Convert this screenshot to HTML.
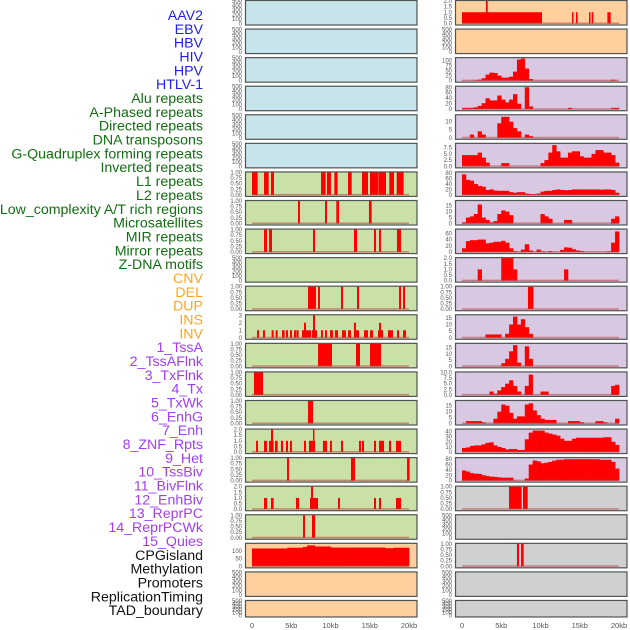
<!DOCTYPE html>
<html><head><meta charset="utf-8"><style>
html,body{margin:0;padding:0;background:#fff;width:630px;height:630px;overflow:hidden}
svg{display:block;font-family:"Liberation Sans",sans-serif}
</style></head><body>
<svg id="chart" width="630" height="630" viewBox="0 0 630 630" xmlns="http://www.w3.org/2000/svg"></svg>
<script>
// ---- data ----
const trackLabels = ["AAV2","EBV","HBV","HIV","HPV","HTLV-1","Alu repeats","A-Phased repeats","Directed repeats","DNA transposons","G-Quadruplex forming repeats","Inverted repeats","L1 repeats","L2 repeats","Low_complexity A/T rich regions","Microsatellites","MIR repeats","Mirror repeats","Z-DNA motifs","CNV","DEL","DUP","INS","INV","1_TssA","2_TssAFlnk","3_TxFlnk","4_Tx","5_TxWk","6_EnhG","7_Enh","8_ZNF_Rpts","9_Het","10_TssBiv","11_BivFlnk","12_EnhBiv","13_ReprPC","14_ReprPCWk","15_Quies","CPGisland","Methylation","Promoters","ReplicationTiming","TAD_boundary"];
const labelGroups = ["virus","virus","virus","virus","virus","virus","rep","rep","rep","rep","rep","rep","rep","rep","rep","rep","rep","rep","rep","sv","sv","sv","sv","sv","chr","chr","chr","chr","chr","chr","chr","chr","chr","chr","chr","chr","chr","chr","chr","oth","oth","oth","oth","oth"];
const xTickValues = [0,5,10,15,20];
const xTickLabels = ["0","5kb","10kb","15kb","20kb"];
// interval tracks: [startKb, endKb, value]
const L7 = [[0,0.72,1],[1.53,2.12,1],[2.42,2.8,1],[8.79,9.38,1],[9.55,10.06,1],[10.49,10.91,1],[12.23,12.7,1],[14.01,14.78,1],[15.03,16.1,1],[16.14,17.07,1],[17.49,18.09,1],[18.43,19.32,1]];
const L8 = [[5.86,6.11,1],[9.3,9.55,1],[10.74,11.08,1],[14.9,15.24,1]];
const L9 = [[1.53,1.91,1],[2.17,2.55,1],[7.77,8.03,1],[12.99,13.38,1],[15.54,15.8,1],[16.18,16.43,1],[18.47,18.98,1]];
const L11 = [[7.13,8.15,1],[8.41,8.66,1],[11.34,11.59,1],[13.38,13.63,1],[18.73,18.98,1],[19.24,19.49,1]];
const L12 = [[0.64,0.89,1],[1.4,1.66,1],[2.5,2.76,1],[3.01,3.27,1],[3.82,4.16,1],[4.33,4.59,1],[4.84,5.1,1],[5.35,5.6,1],[5.65,5.94,1],[6.37,7.52,1],[6.62,6.88,2],[7.64,8.28,1],[7.77,8.03,3],[8.79,9.04,1],[9.3,9.55,1],[9.94,10.32,1],[10.57,10.96,1],[11.46,11.97,1],[12.23,12.61,1],[12.99,13.63,1],[12.99,13.25,2],[14.27,14.78,1],[15.03,15.41,1],[16.05,16.69,1],[16.18,16.43,2],[17.32,17.96,1],[18.47,18.73,1],[19.24,19.62,1]];
const L13 = [[8.41,10.19,1],[13.25,13.76,1],[15.03,16.43,1]];
const L14 = [[0.25,1.4,1]];
const L15 = [[7.13,7.77,1]];
const L16 = [[0.51,0.76,1],[1.53,1.91,1],[2.17,2.76,1],[2.42,2.68,2],[2.93,3.27,1],[3.69,3.95,1],[4.33,4.59,1],[4.84,5.1,1],[6.62,6.88,1],[7.26,8.03,1],[7.77,7.95,2],[9.04,9.55,1],[9.94,10.19,1],[11.34,11.59,1],[13.63,13.88,1],[14.01,14.27,1],[15.54,15.8,1],[16.18,16.82,1],[17.45,17.71,1],[18.34,18.98,1]];
const L17 = [[4.46,4.71,1],[12.61,13.12,1],[19.75,20.08,1]];
const L18 = [[1.53,1.91,1],[2.42,2.76,1],[5.6,5.99,1],[7.39,8.41,1],[7.52,7.77,2],[10.96,11.21,1],[15.54,15.8,1],[16.18,16.43,1],[18.34,18.98,1]];
const L19 = [[6.5,6.75,1],[7.64,8.03,1]];
const R1 = [[0,10.19,1],[3.06,3.27,2],[14.01,14.14,1],[14.52,14.73,1],[16.18,16.35,1],[16.52,16.73,1],[18.52,18.94,1]];
const R11 = [[8.4,9.1,1]];
const R18 = [[5.99,7.6,1],[7.77,8.37,1]];
const R20 = [[7.0,7.26,1],[7.52,7.86,1]];
// binned tracks: 0.5kb bins starting at 0
const L20 = [115,115,115,115,115,115,115,115,115,120,120,120,120,125,135,135,128,128,128,128,121,121,121,121,121,121,121,121,121,121,121,121,121,121,117,117,120,120,120,120,0];
const R3 = [0,0,0,2,5,12,30,40,38,25,15,15,20,45,105,110,60,8,0,0,0,0,0,0,0,0,0,0,0,0,0,0,0,0,0,0,0,0,5,0,0];
const R4 = [5,5,5,7,12,22,40,32,32,50,35,25,35,55,20,0,80,10,0,0,0,0,0,0,0,0,0,5,0,0,0,0,0,0,0,0,0,0,5,5,0];
const R5 = [0,0,2,0,4,2,0,0,0,9,13,13,10,6,4,0,2,1,0,0,0,0,0,0,0,0,0,0,0,0,0,0,0,0,0,0,0,0,0,0,0];
const R6 = [4.5,4.5,4.5,4.5,5.5,3.5,1.5,0,0,0,1.3,1.3,0,0,0,0,0,0,0,0,1.3,2.5,5.5,8.5,6,3.5,3.5,5.5,6,6,4,3.5,3.5,5,6.5,6.5,5.5,5.5,4.5,1.5,0];
const R7 = [75,55,52,40,33,30,18,20,16,15,15,15,10,8,10,10,5,3,3,5,12,15,15,18,20,18,17,18,20,20,20,20,20,20,20,19,20,20,18,8,0];
const R8 = [1,5,6,8,16,5,3,1,2,8,11,10,7,0,0,0,0,0,0,0,8,6,4,0,0,0,3,3,0,0,0,0,0,0,0,0,0,0,4,6,0];
const R9 = [12,35,38,38,40,40,28,30,33,33,36,30,12,3,0,8,25,5,0,8,2,0,3,0,0,7,15,14,9,5,3,0,0,0,0,0,0,2,30,66,0];
const R10 = [0,0,0,0,1,0,0,0,0,0,2,2,2,1,0,0,0,0,0,0,0,0,0,0,0,0,1,0,0,0,0,0,0,0,0,0,0,0,0,0,0];
const R12 = [0,0,0,0,0,0,2.5,2.5,2.5,2.5,0,3,10,16,10,14,8,3,0,0,0,0,0,0,0,0,0,0,0,0,0,0,0,0,0,0,0,0,0,0,0];
const R13 = [0,0,0,0,0,0,0,0,0,0,2.5,6,12,17,3,0,16,6,0,0,0,0,0,0,0,0,0,0,0,0,0,0,0,0,0,0,0,0,0,0,0];
const R14 = [0,0,0,0,0,0,0,1.5,0.5,2,3.5,5,6.5,4,1.5,0,4,9,0,0,1.5,1.5,0,0,0,0,0,0,0,0,0,0,0,0,0,0,0,0,4,4.5,0];
const R15 = [0,2,2,2,2,1,0,0,4,10,16,15,9,4,6,6,16,17,11,7,4,3,3,3,0,0,0,2,2,2,1,0,0,0,2,2,1,0,0,4,0];
const R16 = [8,9,12,13,13,15,18,19,13,10,8,5,6,6,4,4,25,38,42,42,42,38,36,34,32,26,22,22,26,28,28,28,28,28,28,28,29,29,20,14,0];
const R17 = [38,34,28,26,25,20,17,15,14,12,11,11,11,1,0,0,8,60,75,72,65,67,70,75,78,78,80,80,80,80,80,80,80,80,80,78,78,78,70,45,0];

const T500 = [0,100,200,300,400,500];
const T1 = [0,0.25,0.5,0.75,1];
const T2 = [0,0.5,1,1.5,2];
const panels = [
 [0,0,"b",500,T500,null,null],[0,1,"b",500,T500,null,null],[0,2,"b",500,T500,null,null],[0,3,"b",500,T500,null,null],[0,4,"b",500,T500,null,null],[0,5,"b",500,T500,null,null],
 [0,6,"g",1,T1,"iv",L7],[0,7,"g",1,T1,"iv",L8],[0,8,"g",1,T1,"iv",L9],[0,9,"g",500,T500,null,null],[0,10,"g",1,T1,"iv",L11],[0,11,"g",3,[0,1,2,3],"iv",L12],
 [0,12,"g",1,T1,"iv",L13],[0,13,"g",1,T1,"iv",L14],[0,14,"g",1,T1,"iv",L15],[0,15,"g",2,T2,"iv",L16],[0,16,"g",1,T1,"iv",L17],[0,17,"g",2,T2,"iv",L18],[0,18,"g",1,T1,"iv",L19],
 [0,19,"o",145,[0,50,100],"bin",L20],[0,20,"o",500,T500,null,null],[0,21,"o",500,T500,null,null],
 [1,0,"o",2,T2,"iv",R1],[1,1,"o",500,T500,null,null],
 [1,2,"p",112,[0,25,50,75,100],"bin",R3],[1,3,"p",82,[0,20,40,60,80],"bin",R4],[1,4,"p",14,[0,5,10],"bin",R5],[1,5,"p",9,[0,2.5,5,7.5],"bin",R6],
 [1,6,"p",82,[0,20,40,60,80],"bin",R7],[1,7,"p",19,[0,5,10,15],"bin",R8],[1,8,"p",72,[0,20,40,60],"bin",R9],[1,9,"p",2,T2,"bin",R10],
 [1,10,"p",1,T1,"iv",R11],[1,11,"p",17,[0,5,10,15],"bin",R12],[1,12,"p",18,[0,5,10,15],"bin",R13],[1,13,"p",10,[0,2.5,5,7.5,10],"bin",R14],
 [1,14,"p",19,[0,5,10,15],"bin",R15],[1,15,"p",44,[0,10,20,30,40],"bin",R16],[1,16,"p",84,[0,20,40,60,80],"bin",R17],
 [1,17,"gr",1,T1,"iv",R18],[1,18,"gr",500,T500,null,null],[1,19,"gr",1,T1,"iv",R20],[1,20,"gr",500,T500,null,null],[1,21,"gr",500,T500,null,null]
];
const bgColors = {b:"#c8e4eb",g:"#c9e1a6",o:"#ffd09e",p:"#d8c8e2",gr:"#d0d0d0"};
const labelColors = {virus:"#1f1ff0",rep:"#126f12",sv:"#ffa51f",chr:"#a03ff2",oth:"#111111"};

// ---- drawing ----
const NS="http://www.w3.org/2000/svg";
const svg=document.getElementById("chart");
function mk(tag,attrs,parent){const e=document.createElementNS(NS,tag);for(const k in attrs)e.setAttribute(k,attrs[k]);(parent||svg).appendChild(e);return e;}
const PXKB=7.85;
function xScale(col,kb){return (col?462:252)+kb*PXKB;}
function rowTop(r){return r*28.57;}
function rowH(r){return r===21?16.5:24.5;}
function yScale(v,max,top,h){return top+h-1-(v/max)*(h-2);}
function fmt(t,ticks){const dec=ticks.some(x=>Math.abs(x*4-Math.round(x*4))<1e-9 && x%0.5!==0)?2:(ticks.some(x=>x%1!==0)?1:0);return t.toFixed(dec);}

trackLabels.forEach((t,i)=>{
  const e=mk("text",{x:203,y:15+i*13.84+5,"text-anchor":"end","font-size":"14.2",fill:labelColors[labelGroups[i]]});
  e.textContent=t;
  
  
});

panels.forEach(p=>{
  const [col,row,bg,max,ticks,kind,data]=p;
  const top=rowTop(row),h=rowH(row),left=col?455:245,w=171.5;
  const g=mk("g",{});
  
  
  mk("rect",{x:left+0.5,y:top+0.5,width:w,height:h,fill:bgColors[bg],stroke:"#4e5454","stroke-width":1.2},g);
  ticks.forEach(t=>{
    const tx=mk("text",{x:col?452:242,y:yScale(t,max,top,h)+2,"text-anchor":"end","font-size":"6",fill:"#555"},g);
    tx.textContent=fmt(t,ticks);
    
    
  });
  if(kind==="iv"){
    data.forEach(d=>{
      const x1=xScale(col,d[0]),x2=xScale(col,d[1]),y=yScale(d[2],max,top,h);
      const r=mk("rect",{x:x1,y:y,width:Math.max(1.5,x2-x1),height:yScale(0,max,top,h)-y,fill:"#ff0000"},g);
      
      
    });
  } else if(kind==="bin"){
    data.forEach((v,i)=>{
      if(v<=0)return;
      const x1=xScale(col,i*0.5),x2=xScale(col,(i+1)*0.5),y=yScale(v,max,top,h);
      const r=mk("rect",{x:x1,y:y,width:x2-x1+0.3,height:yScale(0,max,top,h)-y,fill:"#ff0000"},g);
      
      
    });
  }
  if(kind){
    const bl=mk("rect",{x:xScale(col,0),y:top+h-2,width:xScale(col,20)-xScale(col,0),height:1.5,fill:"rgba(190,60,60,0.55)"},g);
    
    
  }
});

[0,1].forEach(col=>{
  xTickValues.forEach((v,i)=>{
    const t=mk("text",{x:xScale(col,v),y:628,"text-anchor":"middle","font-size":"7.5",fill:"#555"});
    t.textContent=xTickLabels[i];
    
    
  });
});
</script>
</body></html>
